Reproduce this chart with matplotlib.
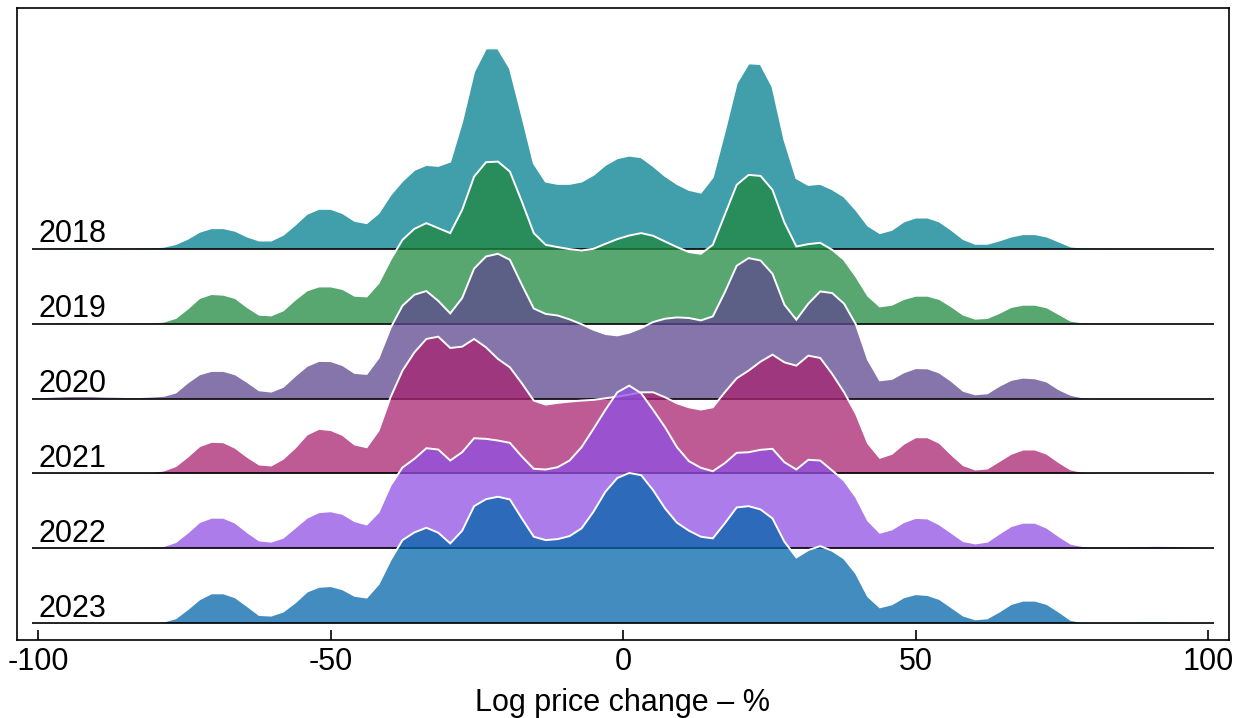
import numpy as np
import matplotlib
matplotlib.use("Agg")
import matplotlib.pyplot as plt

plt.rcParams['font.family'] = ['Liberation Sans', 'DejaVu Sans']

years = ["2018", "2019", "2020", "2021", "2022", "2023"]
colors = ["#007f8f", "#208840", "#5e478e", "#a82370", "#9050e4", "#0366ab"]

# evaluation grid of the density curves (log price change, %)
x = np.linspace(-101, 101, 100)

# curve heights (arbitrary density units; 75 units = one ridge spacing)
d2018 = [0.5, 1, 1.2, 1.5, 1.5, 1.5, 1.3, 1.0, 1.0, 1.2,
         1.5, 2, 4.7, 10, 17, 20.7, 20.7, 18, 12.3, 8.3,
         8.3, 14, 24, 35, 40, 40, 35.7, 28, 25.7, 35.7,
         54, 68, 79, 84, 83, 87.3, 127.3, 177.3, 200.7, 200.7,
         180.7, 134, 85.7, 67.3, 65, 65, 67.3, 74, 84, 90.7,
         93.3, 91.7, 83, 73, 65, 59, 56.3, 71.7, 117.3, 165.7,
         185.7, 185, 162.3, 109, 70.7, 64, 65, 59.7, 52.3, 39,
         23.3, 15.7, 19, 27.3, 31.3, 31.3, 27.3, 19, 9.7, 5,
         5, 8.3, 12.3, 14.7, 14.7, 12.3, 7.3, 2.3, 1.2, 1.0,
         0.9, 0.8, 0.8, 0.7, 0.7, 0.7, 0.6, 0.5, 0.4, 0.3]
d2019 = [0.8, 1, 1.2, 1.3, 1.3, 1.2, 1.0, 0.9, 0.9, 1.0,
         1.3, 2, 5.7, 15, 25.7, 29.7, 29, 25.7, 16.7, 9,
         8.3, 13.3, 24, 33.3, 37.3, 37.3, 34.7, 28, 27.3, 40.7,
         64, 84, 95, 100.7, 95.7, 90.7, 114, 147.3, 161.7, 162.3,
         152.3, 122.3, 90.7, 79, 76.7, 74.7, 73.3, 75, 80, 84.7,
         88.3, 90.7, 88, 82.3, 76.7, 71.7, 70, 79, 109, 139,
         149, 148, 134, 101.3, 77.3, 79.7, 81, 74, 64, 47.3,
         28, 17.3, 19, 24.7, 28, 28, 24.7, 17.3, 9, 5,
         5.7, 10.7, 16.7, 19, 19, 16.3, 9.7, 3, 1.2, 1.0,
         1.0, 0.9, 0.9, 0.9, 0.8, 0.8, 0.7, 0.6, 0.5, 0.4]
d2020 = [1, 1.5, 2, 2.5, 2.5, 2.5, 2, 1.8, 1.5, 1.5,
         2, 2.7, 6, 16, 24.3, 27.7, 27.7, 24.3, 16.7, 8.3,
         7, 11.7, 22.7, 32.7, 37.7, 37.5, 33.5, 25.7, 24.7, 40.7,
         70.7, 93, 104, 107.7, 97.8, 85.3, 100.7, 130.2, 142.3, 145,
         139, 114, 90.2, 84.8, 83.2, 79.3, 74.5, 69, 64.7, 63.3,
         66, 70.7, 76.7, 80, 81.3, 80.7, 78.3, 82.3, 106.3, 133,
         140.7, 138.3, 125, 94, 79, 95, 107.3, 105.7, 95, 74,
         39, 18.3, 19.7, 26.3, 30.5, 30.3, 26, 17.7, 7.7, 4.3,
         5.3, 12.7, 18.7, 21, 20.3, 17, 9.3, 3.7, 1.2, 0.8,
         0.7, 0.7, 0.7, 0.7, 0.7, 0.6, 0.6, 0.5, 0.4, 0.3]
d2021 = [1, 1.2, 1.3, 1.3, 1.2, 1.1, 1.0, 1.0, 1.0, 1.1,
         1.3, 3, 7.3, 16.7, 27.3, 31.7, 31.3, 25.7, 16.7, 9,
         8, 14.7, 25.7, 39, 44.7, 43.5, 38.5, 29, 26.3, 43,
         76.3, 103, 121.3, 134.7, 137, 125.7, 127, 134.7, 126.3, 114.7,
         106.3, 90.3, 73, 69, 70.7, 72, 73, 73.7, 75.3, 77,
         79, 81.3, 81.3, 76.3, 70.3, 66.3, 64, 66.3, 81.3, 95.3,
         103, 112, 119, 111.3, 108, 118, 115.7, 99.7, 81.3, 59.7,
         30.3, 15.7, 19.7, 29.7, 36.3, 36.3, 30.7, 19, 8.3, 4,
         5, 12.3, 19.7, 24, 24, 19.7, 11.3, 4, 1.5, 0.8,
         0.7, 0.7, 0.7, 0.7, 0.7, 0.6, 0.6, 0.5, 0.4, 0.3]
d2022 = [1.5, 1.6, 1.7, 1.7, 1.7, 1.6, 1.5, 1.5, 1.5, 1.6,
         1.8, 2.3, 6.3, 15.7, 26.3, 30.7, 30.7, 25.7, 16.3, 8,
         6.7, 10.7, 20.7, 30.7, 36.3, 37.2, 34.5, 27.3, 24, 36.3,
         63, 81, 89.7, 100.3, 99, 88, 96.3, 110.3, 109.7, 108,
         105.7, 92, 79.7, 79, 81.3, 88, 101.3, 119.7, 138.7, 156.3,
         163, 155.3, 138.7, 121.3, 101.3, 87.3, 80.7, 77.3, 85.3, 95.7,
         96.3, 98.7, 99.7, 86.3, 79, 88.7, 88, 78, 68, 51.3,
         28, 15.7, 19, 26.3, 30.5, 30, 24, 15.7, 7.3, 5,
         6.7, 14.7, 22.3, 25.7, 25.7, 20.7, 12.3, 4.7, 2.3, 1.8,
         1.7, 1.8, 2.0, 2.3, 2.5, 2.4, 2.2, 1.8, 1.5, 1.0]
d2023 = [0.8, 1, 1.1, 1.1, 1.1, 1.0, 1.0, 1.0, 1.0, 1.1,
         1.2, 1.6, 5, 14, 24, 30, 30, 26, 17.3, 8.3,
         7.7, 11.7, 20.7, 31.7, 36.5, 37.3, 34, 27.5, 25.8, 39.3,
         63.3, 83.3, 91, 95.7, 90.7, 80, 92.7, 117.3, 124.3, 126.7,
         124, 105, 86.7, 83.3, 84.3, 87.3, 95, 111.7, 131.7, 145.5,
         150.5, 148.3, 133.3, 115, 100.7, 92.7, 86.7, 85, 100, 116,
         117.3, 114, 105, 81.7, 66, 73.3, 77.3, 72.7, 65, 50,
         27, 16, 19, 26, 29.2, 28.3, 24.3, 16, 7.7, 4,
         5, 11.7, 19.3, 22.7, 22.7, 19.3, 11.7, 3.3, 1.2, 1.0,
         1.0, 1.1, 1.3, 1.5, 1.6, 1.5, 1.3, 1.1, 0.9, 0.7]

series = [d2018, d2019, d2020, d2021, d2022, d2023]
scale = 1 / 75.0

fig = plt.figure(figsize=(12.44, 7.18), dpi=100)
ax = fig.add_axes([0.01342, 0.10864, 0.97476, 0.88022])

n = len(years)
for k, (yr, col, d) in enumerate(zip(years, colors, series)):
    base = n - 1 - k
    top = base + np.asarray(d) * scale
    z = 10 + 3 * k
    ax.fill_between(x, base, top, facecolor=col, alpha=0.75, lw=0, zorder=z)
    ax.plot(x, top, color="white", lw=1.4, zorder=z + 1, solid_joinstyle="miter")
    ax.plot([x[0], x[-1]], [base, base], color="black", lw=1.2, zorder=z + 2,
            solid_capstyle="butt")
    ax.text(-100, base + 0.09, yr, fontsize=22, ha="left", va="baseline", zorder=100)

ax.set_xlim(-103.7, 103.6)
ax.set_ylim(-0.223, 8.215)
ax.set_yticks([])
ticks = [-100, -50, 0, 50, 100]
ax.set_xticks(ticks)
ax.set_xticklabels(["-100", "-50", "0", "50", "100"])
ax.tick_params(axis="x", direction="in", length=7.2, width=1.2, labelsize=22, pad=5,
               colors="black")
for s in ax.spines.values():
    s.set_linewidth(1.2)
    s.set_color("black")
ax.set_xlabel("Log price change \u2013 %", fontsize=22, labelpad=8)

fig.savefig("out.png", dpi=100)
